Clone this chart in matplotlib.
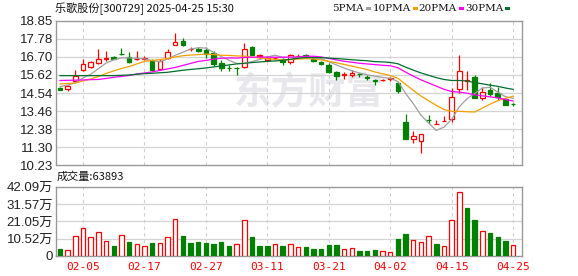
import matplotlib
matplotlib.use('Agg')
import matplotlib.pyplot as plt
from matplotlib.patches import Rectangle

plt.rcParams['font.family'] = ['Liberation Sans', 'Noto Sans CJK SC']

# 60 trading days, 2025-01-23 .. 2025-04-25
dates = ['01-23', '01-24', '01-27', '02-05', '02-06', '02-07', '02-10', '02-11', '02-12', '02-13',
         '02-14', '02-17', '02-18', '02-19', '02-20', '02-21', '02-24', '02-25', '02-26', '02-27',
         '02-28', '03-03', '03-04', '03-05', '03-06', '03-07', '03-10', '03-11', '03-12', '03-13',
         '03-14', '03-17', '03-18', '03-19', '03-20', '03-21', '03-24', '03-25', '03-26', '03-27',
         '03-28', '03-31', '04-01', '04-02', '04-03', '04-07', '04-08', '04-09', '04-10', '04-11',
         '04-14', '04-15', '04-16', '04-17', '04-18', '04-21', '04-22', '04-23', '04-24', '04-25']
label_dates = ['02-05', '02-17', '02-27', '03-11', '03-21', '04-02', '04-15', '04-25']

opens = [14.85, 14.78, 15.28, 15.94, 16.08, 16.32, 16.60, 16.71, 16.88, 16.68,
         16.58, 16.58, 16.47, 16.00, 16.64, 17.43, 17.67, 17.17, 17.19, 17.13,
         16.93, 16.34, 16.06, 16.06, 16.08, 17.29, 16.78, 16.52, 16.62, 16.59,
         16.40, 16.76, 16.80, 16.59, 16.41, 16.22, 15.82, 15.64, 15.60, 15.68,
         15.50, 15.30, 15.30, 15.40, 15.16, 12.82, 11.77, 11.69, 12.94, 12.66,
         12.86, 12.97, 14.76, 15.26, 15.48, 14.22, 14.72, 14.52, 14.16, 13.88]
highs = [14.92, 15.04, 15.94, 16.59, 16.48, 17.17, 17.04, 16.78, 17.23, 16.99,
         17.04, 16.78, 16.55, 16.55, 17.19, 18.13, 17.83, 17.29, 17.31, 17.28,
         17.04, 16.53, 16.23, 16.08, 17.53, 17.33, 16.90, 16.78, 16.71, 16.66,
         16.88, 16.86, 16.86, 16.64, 16.47, 16.32, 15.84, 15.82, 15.90, 15.72,
         15.62, 15.40, 15.36, 15.52, 15.22, 13.28, 12.28, 12.10, 13.22, 12.92,
         13.14, 14.86, 16.81, 15.88, 15.62, 14.92, 15.12, 14.92, 14.26, 13.96]
lows = [14.70, 14.68, 15.24, 15.84, 16.02, 16.28, 16.44, 16.56, 16.80, 16.35,
        16.52, 16.52, 15.87, 15.91, 16.58, 17.39, 17.33, 17.06, 16.98, 16.64,
        16.14, 15.84, 15.87, 15.64, 16.06, 16.80, 16.60, 16.45, 16.52, 16.20,
        16.25, 16.70, 16.70, 16.38, 16.22, 15.72, 15.32, 15.36, 15.50, 15.48,
        15.34, 15.02, 15.28, 15.28, 14.56, 11.77, 11.57, 10.97, 12.73, 12.66,
        12.86, 12.82, 14.56, 14.72, 14.22, 14.12, 14.38, 14.12, 13.82, 13.78]
closes = [14.74, 14.94, 15.58, 16.28, 16.41, 16.56, 16.66, 16.60, 16.86, 16.40,
          16.60, 16.64, 15.94, 16.44, 16.99, 17.59, 17.43, 17.20, 17.04, 16.87,
          16.28, 16.04, 16.02, 16.04, 17.19, 16.83, 16.80, 16.62, 16.66, 16.40,
          16.80, 16.78, 16.76, 16.47, 16.26, 15.78, 15.58, 15.66, 15.72, 15.66,
          15.46, 15.28, 15.32, 15.42, 14.68, 11.77, 11.97, 12.07, 12.90, 12.68,
          12.88, 14.28, 15.88, 15.30, 14.22, 14.62, 14.48, 14.32, 13.82, 13.86]

ma5 = [14.92, 15.02, 15.14, 15.44, 15.66, 16.00, 16.33, 16.53, 16.64, 16.64,
       16.62, 16.59, 16.48, 16.41, 16.57, 16.80, 16.98, 17.17, 17.25, 17.23,
       16.97, 16.72, 16.50, 16.31, 16.31, 16.42, 16.55, 16.70, 16.80, 16.68,
       16.67, 16.66, 16.68, 16.65, 16.60, 16.41, 16.22, 16.03, 15.87, 15.74,
       15.63, 15.55, 15.47, 15.42, 15.23, 14.52, 13.90, 13.22, 12.74, 12.30,
       12.50, 12.96, 13.72, 14.20, 14.51, 14.84, 14.88, 14.60, 14.32, 14.22]
ma10 = [15.08, 15.11, 15.14, 15.26, 15.38, 15.53, 15.71, 15.86, 16.01, 16.12,
        16.28, 16.43, 16.49, 16.54, 16.61, 16.70, 16.77, 16.81, 16.84, 16.87,
        16.84, 16.80, 16.79, 16.76, 16.75, 16.69, 16.63, 16.59, 16.56, 16.52,
        16.54, 16.57, 16.59, 16.58, 16.52, 16.44, 16.35, 16.25, 16.15, 16.05,
        15.94, 15.80, 15.69, 15.59, 15.42, 15.06, 14.70, 14.36, 14.08, 13.80,
        13.55, 13.44, 13.44, 13.42, 13.40, 13.64, 13.87, 14.08, 14.22, 14.35]
ma20 = [15.29, 15.30, 15.31, 15.32, 15.34, 15.35, 15.41, 15.48, 15.53, 15.59,
        15.68, 15.74, 15.80, 15.89, 15.98, 16.07, 16.19, 16.31, 16.43, 16.49,
        16.57, 16.62, 16.64, 16.63, 16.67, 16.68, 16.69, 16.69, 16.68, 16.68,
        16.69, 16.70, 16.74, 16.74, 16.70, 16.61, 16.52, 16.44, 16.38, 16.32,
        16.28, 16.24, 16.20, 16.17, 16.05, 15.79, 15.55, 15.33, 15.14, 14.95,
        14.76, 14.63, 14.59, 14.53, 14.43, 14.37, 14.31, 14.25, 14.15, 14.06]
ma30 = [15.58, 15.58, 15.58, 15.58, 15.58, 15.58, 15.58, 15.58, 15.60, 15.62,
        15.66, 15.70, 15.72, 15.75, 15.78, 15.84, 15.90, 15.95, 15.99, 16.04,
        16.10, 16.16, 16.22, 16.28, 16.32, 16.36, 16.40, 16.43, 16.46, 16.49,
        16.56, 16.62, 16.66, 16.66, 16.66, 16.63, 16.60, 16.57, 16.53, 16.50,
        16.47, 16.42, 16.40, 16.37, 16.29, 16.09, 15.91, 15.74, 15.60, 15.46,
        15.35, 15.29, 15.29, 15.26, 15.16, 15.09, 15.01, 14.94, 14.84, 14.76]

# volume in 万 (10k), colour follows close vs previous close
volumes = [4.3, 3.5, 12.0, 16.9, 11.4, 14.7, 9.0, 6.1, 12.8, 8.6,
           7.1, 5.9, 8.0, 8.0, 11.4, 22.4, 12.2, 8.0, 8.6, 8.0,
           7.3, 8.6, 6.1, 7.1, 21.8, 11.6, 6.1, 6.1, 7.1, 6.1,
           7.1, 5.5, 5.5, 4.3, 4.3, 6.7, 6.7, 4.1, 4.7, 3.1,
           3.1, 3.7, 3.1, 2.4, 10.4, 13.5, 9.6, 8.4, 12.0, 7.3,
           5.9, 21.8, 38.9, 29.4, 22.0, 15.1, 14.1, 11.6, 9.2, 6.39]
vol_up = [0, 1, 1, 1, 1, 1, 1, 0, 1, 0,
          1, 1, 0, 1, 1, 1, 0, 0, 0, 0,
          0, 0, 0, 1, 1, 0, 0, 0, 1, 0,
          1, 1, 0, 0, 0, 0, 0, 1, 1, 0,
          0, 0, 1, 1, 0, 0, 1, 1, 1, 0,
          1, 1, 1, 0, 0, 1, 0, 0, 0, 1]

price_ticks = [10.23, 11.30, 12.38, 13.46, 14.54, 15.62, 16.70, 17.78, 18.85]
vol_ticks = [0, 10.52, 21.05, 31.57, 42.09]

RED = '#ff0000'
GREEN = '#008000'
GRID = '#d4d4d4'
FRAME = '#999999'
W, H = 578, 276


def fx(px):
    return px / W


def fy(py):
    return 1 - py / H


fig = plt.figure(figsize=(W / 100, H / 100), dpi=100)
ax = fig.add_axes([fx(56), fy(165), (522 - 56) / W, (165 - 21) / H])
axv = fig.add_axes([fx(56), fy(256), (522 - 56) / W, (256 - 186.7) / H])

n = len(closes)
xs = list(range(n))
tick_pos = [dates.index(d) for d in label_dates]

# watermark
ax.text(0.543, 0.50, '东方财富', transform=ax.transAxes, ha='center', va='center',
        fontsize=27, fontweight='bold', color='#e8e8ec', family=['Noto Sans CJK SC'], zorder=0)

# candles
for i in xs:
    o, h, l, c = opens[i], highs[i], lows[i], closes[i]
    up = c >= o
    col = RED if up else GREEN
    ax.vlines(i, l, h, color=col, lw=0.9, zorder=3)
    ax.bar(i, max(abs(c - o), 0.012), width=0.6, bottom=min(o, c),
           facecolor='white' if up else col, edgecolor=col, lw=0.9, zorder=4)

ax.plot(xs, ma5, color='#a0a0a0', lw=0.9, zorder=5)
ax.plot(xs, ma10, color='#f5a000', lw=0.9, zorder=5)
ax.plot(xs, ma20, color='#ff00ff', lw=0.9, zorder=5)
ax.plot(xs, ma30, color='#006f2e', lw=0.9, zorder=5)

# volume bars
for i in xs:
    col = RED if vol_up[i] else GREEN
    axv.bar(i, volumes[i], width=0.58, facecolor='white' if vol_up[i] else col,
            edgecolor=col, lw=0.9, zorder=3)

for a in (ax, axv):
    a.set_xlim(-0.52, 60.16)
    for s in a.spines.values():
        s.set_color(FRAME)
        s.set_linewidth(1.0)
    for p in tick_pos:
        a.axvline(p, color='#cfcfcf', lw=0.8, ls=(0, (3, 3)), zorder=1)
    a.tick_params(length=0, labelsize=9.5, labelcolor='#222222', pad=2)

ax.set_ylim(price_ticks[0], price_ticks[-1])
ax.set_yticks(price_ticks)
ax.set_yticklabels(['%.2f' % t for t in price_ticks])
for t in price_ticks[1:-1]:
    ax.axhline(t, color=GRID, lw=0.9, zorder=1)
ax.set_xticks([])

axv.set_ylim(0, vol_ticks[-1])
axv.set_yticks(vol_ticks)
axv.set_yticklabels(['0'] + ['%.2f万' % t for t in vol_ticks[1:]])
for t in vol_ticks[1:-1]:
    axv.axhline(t, color=GRID, lw=0.9, zorder=1)
axv.set_xticks(tick_pos)
axv.set_xticklabels(label_dates, color=RED, fontsize=8, family=['DejaVu Sans Mono'])
axv.tick_params(axis='x', pad=4)

# header texts
fig.text(fx(55), fy(8.5), '乐歌股份[300729] 2025-04-25 15:30', ha='left', va='center',
         fontsize=8, color='#111111', family=['Noto Sans CJK SC', 'DejaVu Sans'])
fig.text(fx(57), fy(176.5), '成交量:63893', ha='left', va='center',
         fontsize=8, color='#111111', family=['Noto Sans CJK SC', 'DejaVu Sans'])

legend_items = [('5PMA', '#a0a0a0', 364), ('10PMA', '#f5a000', 411),
                ('20PMA', '#ff00ff', 457), ('30PMA', '#006f2e', 503)]
for name, col, xr in legend_items:
    fig.text(fx(xr), fy(8.5), name, ha='right', va='center', fontsize=7.5,
             color='#111111', family=['DejaVu Serif'])
    fig.patches.append(Rectangle((fx(xr + 2), fy(10)), 5 / W, 3 / H, facecolor=col,
                                 edgecolor='none', transform=fig.transFigure, figure=fig))

fig.savefig('out.png', dpi=100, facecolor='white')
